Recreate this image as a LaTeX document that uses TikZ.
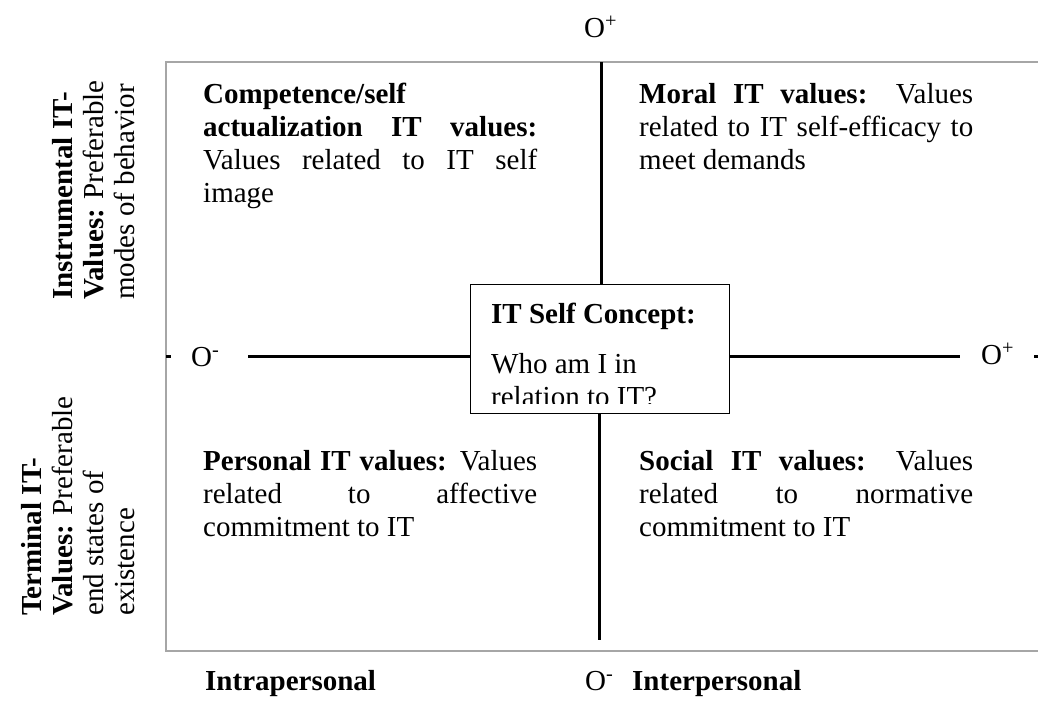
\documentclass[tikz,border=0pt]{standalone}
\usepackage{fontspec}
\setmainfont{Liberation Serif}
\usetikzlibrary{calc}

% justified quadrant text, first baseline at the node's base
\newcommand{\quadtext}[1]{\parbox[t]{334pt}{\fontsize{29}{33.3}\selectfont
  \tolerance=10000 \hbadness=10000 \hyphenpenalty=10000 #1}}

\begin{document}
\begin{tikzpicture}[x=1pt,y=-1pt,
  frame/.style={draw={rgb,255:red,166;green,166;blue,166}, line width=2pt},
  axis/.style={draw=black, line width=3pt},
  quad/.style={anchor=base west, inner sep=0pt},
  pole/.style={anchor=base west, inner sep=0pt, font=\fontsize{29}{33.3}\selectfont},
  sidelabel/.style={rotate=90, anchor=south west, inner sep=0pt, align=left,
    font=\fontsize{29}{31}\selectfont},
  conceptbox/.style={fill=white, minimum width=258pt, minimum height=128pt, inner sep=0pt},
  conceptborder/.style={draw=black, line width=1.2pt},
]
\useasboundingbox (0,0) rectangle (1038,702);

% outer frame (open on the right)
\coordinate (frameNE) at (1042,62);
\coordinate (frameNW) at (166,62);
\coordinate (frameSW) at (166,651);
\coordinate (frameSE) at (1042,651);
\draw[frame] (frameNE) -- (frameNW) -- (frameSW) -- (frameSE);

% central self-concept box
\node[conceptbox] (concept) at (600,349) {};
\begin{scope}
  \clip (concept.north west) rectangle ($(concept.south east)+(0,-10)$);
  \node[quad] (concepttext) at (491,323) {\parbox[t]{220pt}{\fontsize{29}{33.3}\selectfont\raggedright
    \textbf{IT Self Concept:}\par\vspace{16.7pt}Who am I in\\relation to IT?}};
\end{scope}
\draw[conceptborder] (concept.north west) rectangle (concept.south east);

% axes
\coordinate (axisN) at (601.5,62);
\coordinate (axisS) at (599,640);
\coordinate (axisW) at (248,356);
\coordinate (axisE) at (960,356);
\draw[axis] (concept.north -| axisN) -- (axisN);
\draw[axis] (concept.south -| axisS) -- (axisS);
\draw[axis] (concept.west |- axisW) -- (axisW);
\draw[axis] (concept.east |- axisE) -- (axisE);

% small axis stubs at the frame edges
\coordinate (stubW1) at (166,356);
\coordinate (stubW2) at (171,356);
\coordinate (stubE1) at (1034,356);
\coordinate (stubE2) at (1042,356);
\draw[axis] (stubW1) -- (stubW2);
\draw[axis] (stubE1) -- (stubE2);

% pole labels
\node[pole] (poleN) at (584,37) {O\textsuperscript{+}};
\node[pole] (poleW) at (191,366) {O\textsuperscript{-}};
\node[pole] (poleE) at (981,364) {O\textsuperscript{+}};
\node[pole] (poleS) at (585,690) {O\textsuperscript{-}};

% bottom axis captions
\node[pole] (intra) at (205,690) {\textbf{Intrapersonal}};
\node[pole] (inter) at (632,690) {\textbf{Interpersonal}};

% quadrant texts
\node[quad] (competence) at (203,103) {\quadtext{\textbf{Competence/self}\\
  \textbf{actualization IT values:}\linebreak Values related to IT self\linebreak image}};
\node[quad] (moral) at (639,103) {\quadtext{\textbf{Moral IT values:} Values\linebreak
  related to IT self-efficacy to\linebreak meet demands}};
\node[quad] (personal) at (203,470) {\quadtext{\textbf{Personal IT values:} Values\linebreak
  related to affective\linebreak commitment to IT}};
\node[quad] (social) at (639,470) {\quadtext{\textbf{Social IT values:} Values\linebreak
  related to normative\linebreak commitment to IT}};

% side captions, reading upwards
\node[sidelabel] (instrumental) at (135,300) {\textbf{Instrumental IT-}\\
  \textbf{Values:} Preferable\\modes of behavior};
\node[sidelabel] (terminal) at (135,616) {\textbf{Terminal IT-}\\
  \textbf{Values:} Preferable\\end states of\\existence};
\end{tikzpicture}
\end{document}
